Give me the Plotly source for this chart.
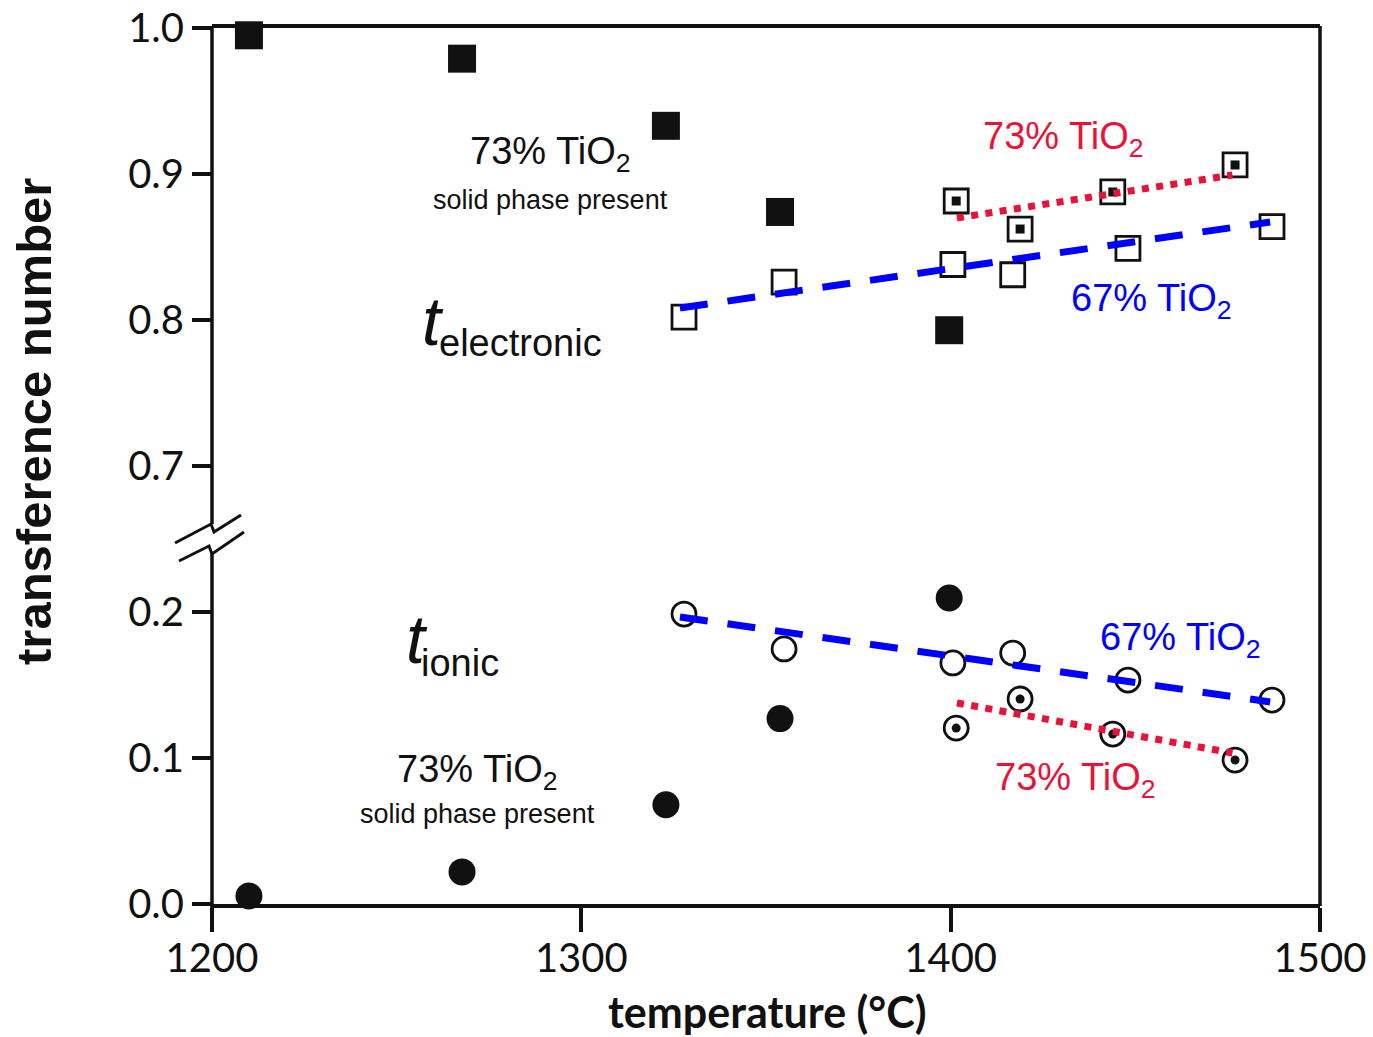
import plotly.graph_objects as go

# ---------------- data (real values read from the figure) ----------------
# 73% TiO2, solid phase present
T_73_solid = [1210.0, 1267.7, 1322.9, 1353.8, 1399.6]
t_elec_73_solid = [0.995, 0.979, 0.933, 0.874, 0.793]
t_ion_73_solid = [0.0055, 0.022, 0.068, 0.127, 0.2096]

# 67% TiO2
T_67 = [1327.8, 1354.9, 1400.6, 1416.8, 1448.0, 1487.0]
t_elec_67 = [0.802, 0.826, 0.838, 0.831, 0.849, 0.864]
t_ion_67 = [0.1986, 0.1747, 0.1651, 0.1719, 0.1534, 0.1397]

# 73% TiO2 (melt)
T_73 = [1401.5, 1418.8, 1443.9, 1477.0]
t_elec_73 = [0.8815, 0.8623, 0.8877, 0.9062]
t_ion_73 = [0.1205, 0.1404, 0.1164, 0.0986]

# fitted trend lines (end points)
T_fit_67 = [1326.7, 1486.5]
t_elec_fit_67 = [0.8082, 0.8671]
t_ion_fit_67 = [0.1966, 0.1384]
T_fit_73 = [1401.7, 1476.3]
t_elec_fit_73 = [0.8699, 0.8993]
t_ion_fit_73 = [0.1377, 0.1034]

x_ticks = [1200, 1300, 1400, 1500]
y_tick_values = [0.0, 0.1, 0.2, 0.7, 0.8, 0.9, 1.0]
y_tick_labels = ["0.0", "0.1", "0.2", "0.7", "0.8", "0.9", "1.0"]

# ---------------- broken axis: remove the 0.3-0.6 gap ----------------
GAP = 0.4


def brk(v):
    return v - GAP if v > 0.45 else v


def brk_list(vals):
    return [brk(v) for v in vals]


# layout helpers (pixel -> paper), plot area 212..1320 x 28..904
PL, PR, PT, PB = 212, 1320, 28, 904


def px(x):
    return (x - PL) / (PR - PL)


def py(y):
    return (PB - y) / (PB - PT)


BLACK = "#111111"
RED = "#EA1238"
BLUE = "#0000FF"

fig = go.Figure()

# filled squares / circles
fig.add_trace(go.Scatter(x=T_73_solid, y=brk_list(t_elec_73_solid), mode="markers",
                         marker=dict(symbol="square", size=28, color=BLACK, line=dict(width=0)),
                         cliponaxis=False, showlegend=False))
fig.add_trace(go.Scatter(x=T_73_solid, y=brk_list(t_ion_73_solid), mode="markers",
                         marker=dict(symbol="circle", size=27, color=BLACK, line=dict(width=0)),
                         cliponaxis=False, showlegend=False))
# open squares / circles
fig.add_trace(go.Scatter(x=T_67, y=brk_list(t_elec_67), mode="markers",
                         marker=dict(symbol="square", size=24, color="white", line=dict(width=2.8, color=BLACK)),
                         cliponaxis=False, showlegend=False))
fig.add_trace(go.Scatter(x=T_67, y=brk_list(t_ion_67), mode="markers",
                         marker=dict(symbol="circle", size=24, color="white", line=dict(width=2.8, color=BLACK)),
                         cliponaxis=False, showlegend=False))
# dotted squares / circles
fig.add_trace(go.Scatter(x=T_73, y=brk_list(t_elec_73), mode="markers",
                         marker=dict(symbol="square", size=24, color="white", line=dict(width=2.8, color=BLACK)),
                         cliponaxis=False, showlegend=False))
fig.add_trace(go.Scatter(x=T_73, y=brk_list(t_elec_73), mode="markers",
                         marker=dict(symbol="square", size=9, color=BLACK, line=dict(width=0)),
                         cliponaxis=False, showlegend=False))
fig.add_trace(go.Scatter(x=T_73, y=brk_list(t_ion_73), mode="markers",
                         marker=dict(symbol="circle", size=24, color="white", line=dict(width=2.8, color=BLACK)),
                         cliponaxis=False, showlegend=False))
fig.add_trace(go.Scatter(x=T_73, y=brk_list(t_ion_73), mode="markers",
                         marker=dict(symbol="circle", size=9, color=BLACK, line=dict(width=0)),
                         cliponaxis=False, showlegend=False))

# trend lines
for yy in (t_elec_fit_67, t_ion_fit_67):
    fig.add_trace(go.Scatter(x=T_fit_67, y=brk_list(yy), mode="lines",
                             line=dict(color=BLUE, width=7, dash="28px,20px"),
                             cliponaxis=False, showlegend=False))
for yy in (t_elec_fit_73, t_ion_fit_73):
    fig.add_trace(go.Scatter(x=T_fit_73, y=brk_list(yy), mode="lines",
                             line=dict(color=RED, width=7, dash="7px,7.4px"),
                             cliponaxis=False, showlegend=False))

# ---------------- frame & axis break ----------------
LW = 3.5
shapes = [
    # left axis, upper part
    dict(type="line", xref="paper", yref="paper", x0=0, x1=0, y0=py(26), y1=py(524),
         line=dict(color=BLACK, width=LW)),
    # left axis, lower part
    dict(type="line", xref="paper", yref="paper", x0=0, x1=0, y0=py(553), y1=py(930),
         line=dict(color=BLACK, width=LW)),
    # right border
    dict(type="line", xref="paper", yref="paper", x0=1, x1=1, y0=py(26), y1=py(906),
         line=dict(color=BLACK, width=LW)),
]


def path(points):
    return "M " + " L ".join(f"{px(a):.5f},{py(b):.5f}" for a, b in points)


shapes.append(dict(type="path", xref="paper", yref="paper",
                   path=path([(175, 543), (211, 524), (214, 532), (241, 515)]),
                   line=dict(color=BLACK, width=3)))
shapes.append(dict(type="path", xref="paper", yref="paper",
                   path=path([(179, 561), (209, 546), (212, 554), (244, 532)]),
                   line=dict(color=BLACK, width=3)))

# ---------------- annotations ----------------
SANS = "Liberation Sans, Arial, sans-serif"
GILL = "Lato, sans-serif"


def ann(text, cx, cy, size, color=BLACK, family=SANS, italic=False, weight="normal", angle=0):
    return dict(text=text, x=px(cx), y=py(cy), xref="paper", yref="paper",
                xanchor="center", yanchor="middle", showarrow=False, textangle=angle,
                font=dict(family=family, size=size, color=color,
                          style="italic" if italic else "normal", weight=weight))


annotations = [
    ann("73% TiO<sub>2</sub>", 550, 154, 38),
    ann("solid phase present", 550, 200, 27),
    ann("t", 433, 321, 68, italic=True),
    ann("electronic", 520, 343, 38),
    ann("t", 417, 639, 68, italic=True),
    ann("ionic", 460, 663, 38),
    ann("73% TiO<sub>2</sub>", 477, 772, 38),
    ann("solid phase present", 477, 814, 27),
    ann("73% TiO<sub>2</sub>", 1063, 139, 38, color=RED),
    ann("67% TiO<sub>2</sub>", 1151, 301, 38, color=BLUE),
    ann("67% TiO<sub>2</sub>", 1180, 640, 38, color=BLUE),
    ann("73% TiO<sub>2</sub>", 1075, 780, 38, color=RED),
    ann("transference number", 34, 422, 49, weight="bold", angle=-90),
    ann("temperature (°C)", 767, 1011, 43, family=GILL, weight="bold"),
]

fig.update_layout(
    width=1373, height=1037,
    margin=dict(l=PL, r=1373 - PR, t=PT, b=1037 - PB, pad=0, autoexpand=False),
    paper_bgcolor="white", plot_bgcolor="white",
    showlegend=False,
    shapes=shapes,
    annotations=annotations,
    xaxis=dict(range=[1200, 1500], tickvals=x_ticks, showgrid=False, zeroline=False,
               showline=True, linecolor=BLACK, linewidth=LW, mirror=True, automargin=False,
               ticks="outside", ticklen=24, tickwidth=LW, tickcolor=BLACK,
               tickfont=dict(family=GILL, size=40, color=BLACK)),
    yaxis=dict(range=[0, 0.6], tickvals=brk_list(y_tick_values), ticktext=y_tick_labels,
               showgrid=False, zeroline=False, showline=False, automargin=False,
               ticks="outside", ticklen=19, tickwidth=LW, tickcolor=BLACK,
               tickfont=dict(family=GILL, size=40, color=BLACK)),
)

# nudge x tick labels up slightly, closer to the ticks (as in the reference)
fig.update_xaxes(ticklabelstandoff=-8)

fig.write_html("out.html", config={"displayModeBar": False})
